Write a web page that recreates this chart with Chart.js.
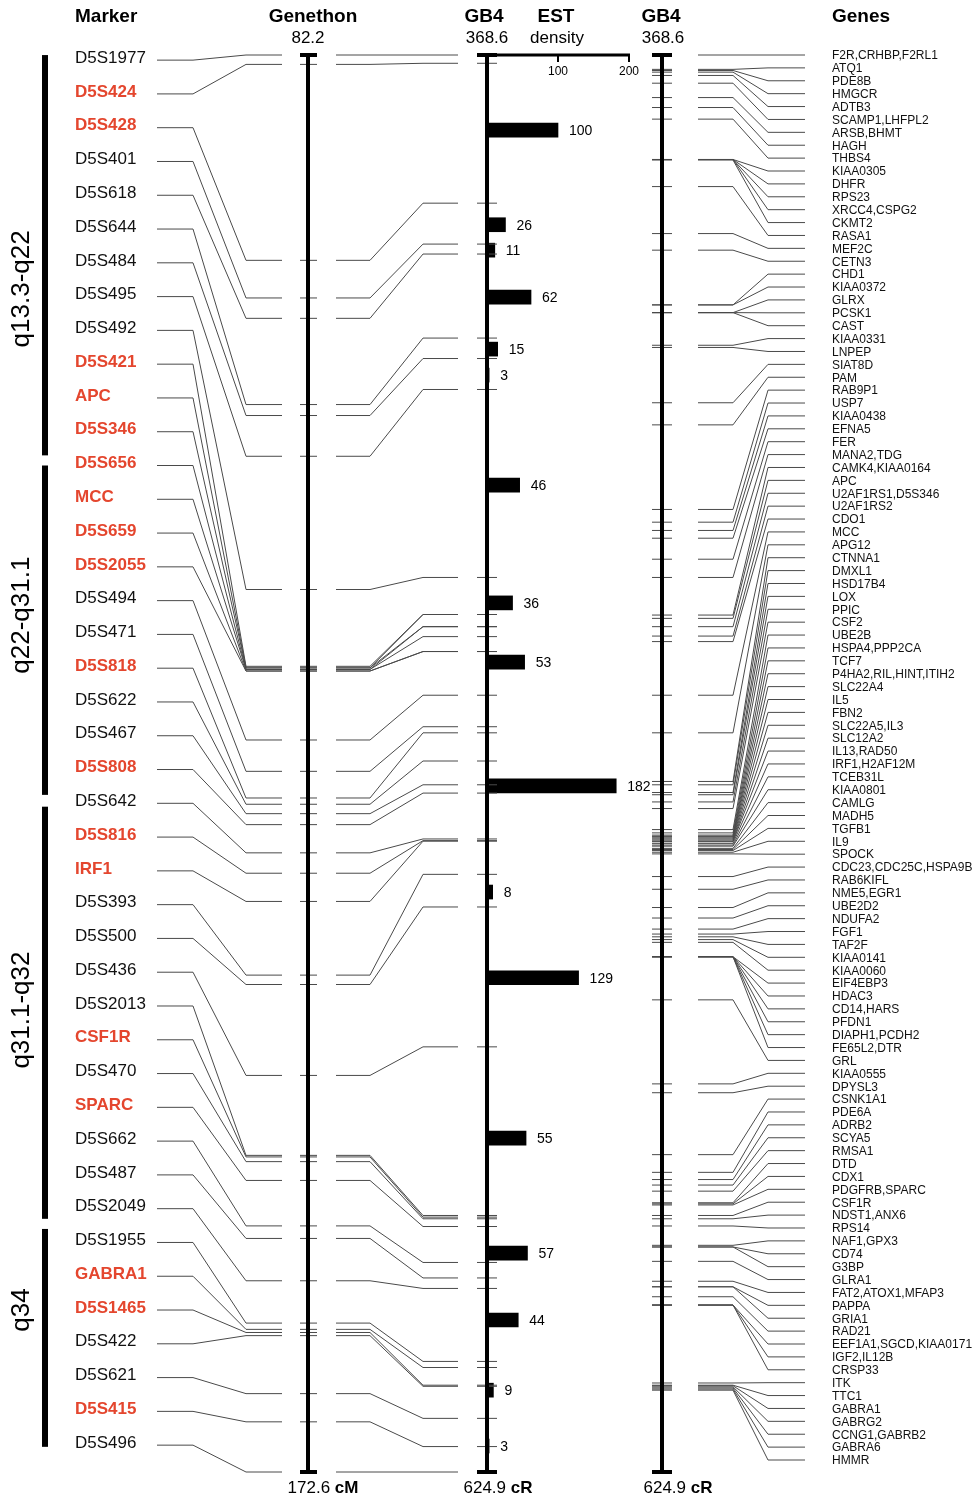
<!DOCTYPE html>
<html>
<head>
<meta charset="utf-8">
<script src="https://cdn.jsdelivr.net/npm/chart.js@4/dist/chart.umd.min.js"></script>
<style>
  html, body { margin: 0; padding: 0; background: #fff; }
  canvas { display: block; }
</style>
</head>
<body>
<canvas id="mapChart" width="977" height="1498"></canvas>
<script>
// chromosome 5q map: markers, Genethon (cM), GB4 (cR), EST density, genes

const markerNames = ["D5S1977","D5S424","D5S428","D5S401","D5S618","D5S644","D5S484","D5S495","D5S492","D5S421",
  "APC","D5S346","D5S656","MCC","D5S659","D5S2055","D5S494","D5S471","D5S818","D5S622",
  "D5S467","D5S808","D5S642","D5S816","IRF1","D5S393","D5S500","D5S436","D5S2013","CSF1R",
  "D5S470","SPARC","D5S662","D5S487","D5S2049","D5S1955","GABRA1","D5S1465","D5S422","D5S621",
  "D5S415","D5S496"];
const highlighted = ["D5S424","D5S428","D5S421","APC","D5S346","D5S656","MCC","D5S659","D5S2055","D5S818",
  "D5S808","D5S816","IRF1","CSF1R","SPARC","GABRA1","D5S1465","D5S415"];
const markerCM = [82.2,82.8,95.3,97.7,99.0,104.5,105.2,107.8,116.3,121.2,
  121.3,121.3,121.4,121.4,121.5,121.5,125.9,127.9,129.6,130.0,
  130.6,131.3,133.1,134.4,136.2,140.9,141.5,147.3,152.4,152.5,
  152.8,154.0,156.9,157.7,160.4,163.1,163.5,163.7,163.9,167.6,
  169.4,172.6];
const markerCR = [368.6,370.1,395.4,402.8,404.6,419.8,423.5,429.1,463.1,469.8,
  469.8,472.0,472.0,473.8,476.5,476.5,484.4,490.1,491.2,496.3,
  500.6,502.1,510.4,510.7,510.8,516.8,522.7,548.0,578.5,578.8,
  579.1,580.5,587.0,589.8,591.7,604.9,606.0,609.2,609.4,615.2,
  620.3,624.9];

const bandNames = ["q13.3-q22","q22-q31.1","q31.1-q32","q34"];
const bandStart = [-0.15, 12.0, 22.1, 34.6];   // in marker rows
const bandEnd = [11.7, 21.75, 34.3, 41.05];
const bandLabelRow = [6.77, 16.43, 28.12, 37.0];

const estCR = [382.2,399.3,403.9,412.4,421.8,426.5,446.4,467.7,478.4,500.8,520.0,535.5,564.5,585.3,597.4,610.1,620.2];
const estCount = [100,26,11,62,15,3,46,36,53,182,8,129,55,57,44,9,3];
const estTicks = [100, 200];

const geneNames = ["F2R,CRHBP,F2RL1","ATQ1","PDE8B","HMGCR","ADTB3","SCAMP1,LHFPL2","ARSB,BHMT","HAGH","THBS4","KIAA0305",
  "DHFR","RPS23","XRCC4,CSPG2","CKMT2","RASA1","MEF2C","CETN3","CHD1","KIAA0372","GLRX",
  "PCSK1","CAST","KIAA0331","LNPEP","SIAT8D","PAM","RAB9P1","USP7","KIAA0438","EFNA5",
  "FER","MANA2,TDG","CAMK4,KIAA0164","APC","U2AF1RS1,D5S346","U2AF1RS2","CDO1","MCC","APG12","CTNNA1",
  "DMXL1","HSD17B4","LOX","PPIC","CSF2","UBE2B","HSPA4,PPP2CA","TCF7","P4HA2,RIL,HINT,ITIH2","SLC22A4",
  "IL5","FBN2","SLC22A5,IL3","SLC12A2","IL13,RAD50","IRF1,H2AF12M","TCEB31L","KIAA0801","CAMLG","MADH5",
  "TGFB1","IL9","SPOCK","CDC23,CDC25C,HSPA9B","RAB6KIFL","NME5,EGR1","UBE2D2","NDUFA2","FGF1","TAF2F",
  "KIAA0141","KIAA0060","EIF4EBP3","HDAC3","CD14,HARS","PFDN1","DIAPH1,PCDH2","FE65L2,DTR","GRL","KIAA0555",
  "DPYSL3","CSNK1A1","PDE6A","ADRB2","SCYA5","RMSA1","DTD","CDX1","PDGFRB,SPARC","CSF1R",
  "NDST1,ANX6","RPS14","NAF1,GPX3","CD74","G3BP","GLRA1","FAT2,ATOX1,MFAP3","PAPPA","GRIA1","RAD21",
  "EEF1A1,SGCD,KIAA0171","IGF2,IL12B","CRSP33","ITK","TTC1","GABRA1","GABRG2","CCNG1,GABRB2","GABRA6","HMMR"];
const geneCR = [368.6,371.2,371.4,371.7,372.3,373.7,376.3,378.1,380.2,387.5,
  387.5,387.5,387.5,387.6,392.4,400.9,403.9,413.8,413.8,415.2,
  415.2,415.2,421.1,421.5,431.5,435.5,450.8,453.1,454.6,456.0,
  459.8,463.1,469.9,470.5,472.0,473.7,474.7,484.4,491.2,500.0,
  500.6,502.0,502.4,503.7,504.9,508.7,509.3,509.7,509.9,510.0,
  510.2,510.4,510.6,510.8,510.9,511.2,511.5,511.7,512.1,512.3,
  512.5,512.8,513.1,517.2,519.5,522.8,524.7,526.7,527.6,528.1,
  528.6,529.1,531.7,531.7,531.7,531.7,531.7,531.7,539.5,554.7,
  556.3,567.5,570.7,572.0,573.0,574.1,576.2,576.4,576.6,578.5,
  579.1,580.4,583.9,584.2,584.2,586.8,590.4,591.4,591.4,593.2,
  594.7,594.7,594.7,608.8,609.2,609.3,609.5,609.7,609.9,610.1];

const cmRange = [82.2, 172.6];
const crRange = [368.6, 624.9];

// column x positions (pixels)
const COL = {
  bandX: 42, bandW: 6, bandLabel: 22,
  mkText: 75, mkL: 157, mkR: 193,
  genIn: 246, genStub: 282, genTickL: 300, genAxis: 308, genTickR: 317, genOut: 336, genOutR: 370,
  gbIn: 423, gbStub: 458, gbTickL: 477, gbAxis: 487, gbTickR: 497,
  gb2TickL: 652, gb2Axis: 662, gb2TickR: 672, gnL: 698, gnR: 733, gnIn: 768, gnStub: 805, gnText: 832
};

const FONT = '"Liberation Sans", Arial, Helvetica, sans-serif';
const RED = "#e4462e";
const LINE = "#4a4a4a";

function seg(ctx, pts) {
  ctx.beginPath();
  ctx.moveTo(pts[0][0], pts[0][1]);
  for (let i = 1; i < pts.length; i++) ctx.lineTo(pts[i][0], pts[i][1]);
  ctx.stroke();
}

function vAxis(ctx, x, y0, y1, l, r) {
  ctx.strokeStyle = "#000";
  ctx.lineWidth = 4;
  seg(ctx, [[x, y0], [x, y1]]);
  seg(ctx, [[l, y0], [r, y0]]);
  seg(ctx, [[l, y1], [r, y1]]);
}

const mapPlugin = {
  id: "mapPlugin",
  afterDatasetsDraw(chart) {
    const ctx = chart.ctx;
    const s = chart.scales;
    const yMk = v => s.yMk.getPixelForValue(v);
    const yCM = v => s.yCM.getPixelForValue(v);
    const yCR = v => s.y.getPixelForValue(v);
    const yGn = v => s.yGn.getPixelForValue(v);
    const top = yCR(crRange[0]), bottom = yCR(crRange[1]);

    ctx.save();

    // chromosome bands
    ctx.fillStyle = "#000";
    bandNames.forEach((name, i) => {
      const a = yMk(bandStart[i]), b = yMk(bandEnd[i]);
      ctx.fillRect(COL.bandX, a, COL.bandW, b - a);
      ctx.save();
      ctx.translate(COL.bandLabel, yMk(bandLabelRow[i]));
      ctx.rotate(-Math.PI / 2);
      ctx.font = "26px " + FONT;
      ctx.textAlign = "center";
      ctx.textBaseline = "middle";
      ctx.fillText(name, 0, 0);
      ctx.restore();
    });

    // marker connectors
    ctx.strokeStyle = LINE;
    ctx.lineWidth = 1;
    markerNames.forEach((name, i) => {
      const ym = yMk(i), yc = yCM(markerCM[i]), yr = yCR(markerCR[i]);
      seg(ctx, [[COL.mkL, ym], [COL.mkR, ym], [COL.genIn, yc], [COL.genStub, yc]]);
      seg(ctx, [[COL.genTickL, yc], [COL.genTickR, yc]]);
      seg(ctx, [[COL.genOut, yc], [COL.genOutR, yc], [COL.gbIn, yr], [COL.gbStub, yr]]);
      seg(ctx, [[COL.gbTickL, yr], [COL.gbTickR, yr]]);
    });

    // gene connectors
    geneNames.forEach((name, i) => {
      const yr = yCR(geneCR[i]), yg = yGn(i);
      seg(ctx, [[COL.gb2TickL, yr], [COL.gb2TickR, yr]]);
      seg(ctx, [[COL.gnL, yr], [COL.gnR, yr], [COL.gnIn, yg], [COL.gnStub, yg]]);
    });

    // axes
    vAxis(ctx, COL.genAxis, yCM(cmRange[0]), yCM(cmRange[1]), COL.genTickL, COL.genTickR);
    vAxis(ctx, COL.gbAxis, top, bottom, COL.gbTickL, COL.gbTickR);
    vAxis(ctx, COL.gb2Axis, top, bottom, COL.gb2TickL, COL.gb2TickR);

    // EST density axis on top
    ctx.strokeStyle = "#000";
    ctx.lineWidth = 3;
    seg(ctx, [[COL.gbTickL, top], [s.x.getPixelForValue(estTicks[estTicks.length - 1]) + 1, top]]);
    ctx.lineWidth = 2;
    ctx.fillStyle = "#000";
    ctx.font = "12px " + FONT;
    ctx.textAlign = "center";
    ctx.textBaseline = "middle";
    estTicks.forEach(t => {
      const x = s.x.getPixelForValue(t);
      seg(ctx, [[x, top], [x, top + 7]]);
      ctx.fillText(String(t), x, top + 17);
    });

    // bar value labels
    ctx.font = "14px " + FONT;
    ctx.textAlign = "left";
    estCR.forEach((cr, i) => {
      ctx.fillText(String(estCount[i]), s.x.getPixelForValue(estCount[i]) + 11, yCR(cr) + 1);
    });

    // marker labels
    ctx.textBaseline = "middle";
    markerNames.forEach((name, i) => {
      const red = highlighted.includes(name);
      ctx.fillStyle = red ? RED : "#111";
      ctx.font = (red ? "bold " : "") + "17px " + FONT;
      ctx.fillText(name, COL.mkText, yMk(i) - 2);
    });

    // gene labels
    ctx.fillStyle = "#111";
    ctx.font = "12px " + FONT;
    geneNames.forEach((name, i) => ctx.fillText(name, COL.gnText, yGn(i) + 1));

    // headers
    ctx.fillStyle = "#000";
    ctx.font = "bold 19px " + FONT;
    ctx.textAlign = "left";
    ctx.fillText("Marker", 75, 17);
    ctx.fillText("Genes", 832, 17);
    ctx.textAlign = "center";
    ctx.fillText("Genethon", 313, 17);
    ctx.fillText("GB4", 484, 17);
    ctx.fillText("EST", 556, 17);
    ctx.fillText("GB4", 661, 17);

    ctx.font = "17px " + FONT;
    ctx.fillText(String(cmRange[0]), COL.genAxis, 38);
    ctx.fillText(String(crRange[0]), COL.gbAxis, 38);
    ctx.fillText("density", 557, 38);
    ctx.fillText(String(crRange[0]), COL.gb2Axis + 1, 38);

    // bottom labels, value regular + unit bold
    const endLabel = (val, unit, cx) => {
      ctx.font = "17px " + FONT;
      const a = ctx.measureText(val + " ").width;
      ctx.font = "bold 17px " + FONT;
      const b = ctx.measureText(unit).width;
      const left = cx - (a + b) / 2;
      ctx.textAlign = "left";
      ctx.font = "17px " + FONT;
      ctx.fillText(val + " ", left, 1488);
      ctx.font = "bold 17px " + FONT;
      ctx.fillText(unit, left + a, 1488);
    };
    endLabel(String(cmRange[1]), "cM", 323);
    endLabel(String(crRange[1]), "cR", 498);
    endLabel(String(crRange[1]), "cR", 678);

    ctx.restore();
  }
};

const ctx = document.getElementById("mapChart").getContext("2d");

const hidden = { display: false, offset: false, grid: { offset: false } };

new Chart(ctx, {
  type: "bar",
  data: {
    datasets: [{
      label: "EST density",
      data: estCR.map((cr, i) => ({ x: estCount[i], y: cr })),
      backgroundColor: "#000",
      borderWidth: 0,
      barThickness: 14
    }]
  },
  options: {
    indexAxis: "y",
    responsive: false,
    animation: false,
    layout: { padding: { left: 487, right: 348, top: 55, bottom: 26 } },
    plugins: {
      legend: { display: false },
      tooltip: { enabled: false }
    },
    scales: {
      x: { ...hidden, type: "linear", min: 0, max: 200 },
      y: { ...hidden, type: "linear", min: crRange[0], max: crRange[1], reverse: true },
      yCM: { ...hidden, type: "linear", axis: "y", min: cmRange[0], max: cmRange[1], reverse: true },
      yMk: { ...hidden, type: "linear", axis: "y", min: -0.152, max: 41.795, reverse: true },
      yGn: { ...hidden, type: "linear", axis: "y", min: 0, max: 109.93, reverse: true }
    }
  },
  plugins: [mapPlugin]
});
</script>
</body>
</html>
